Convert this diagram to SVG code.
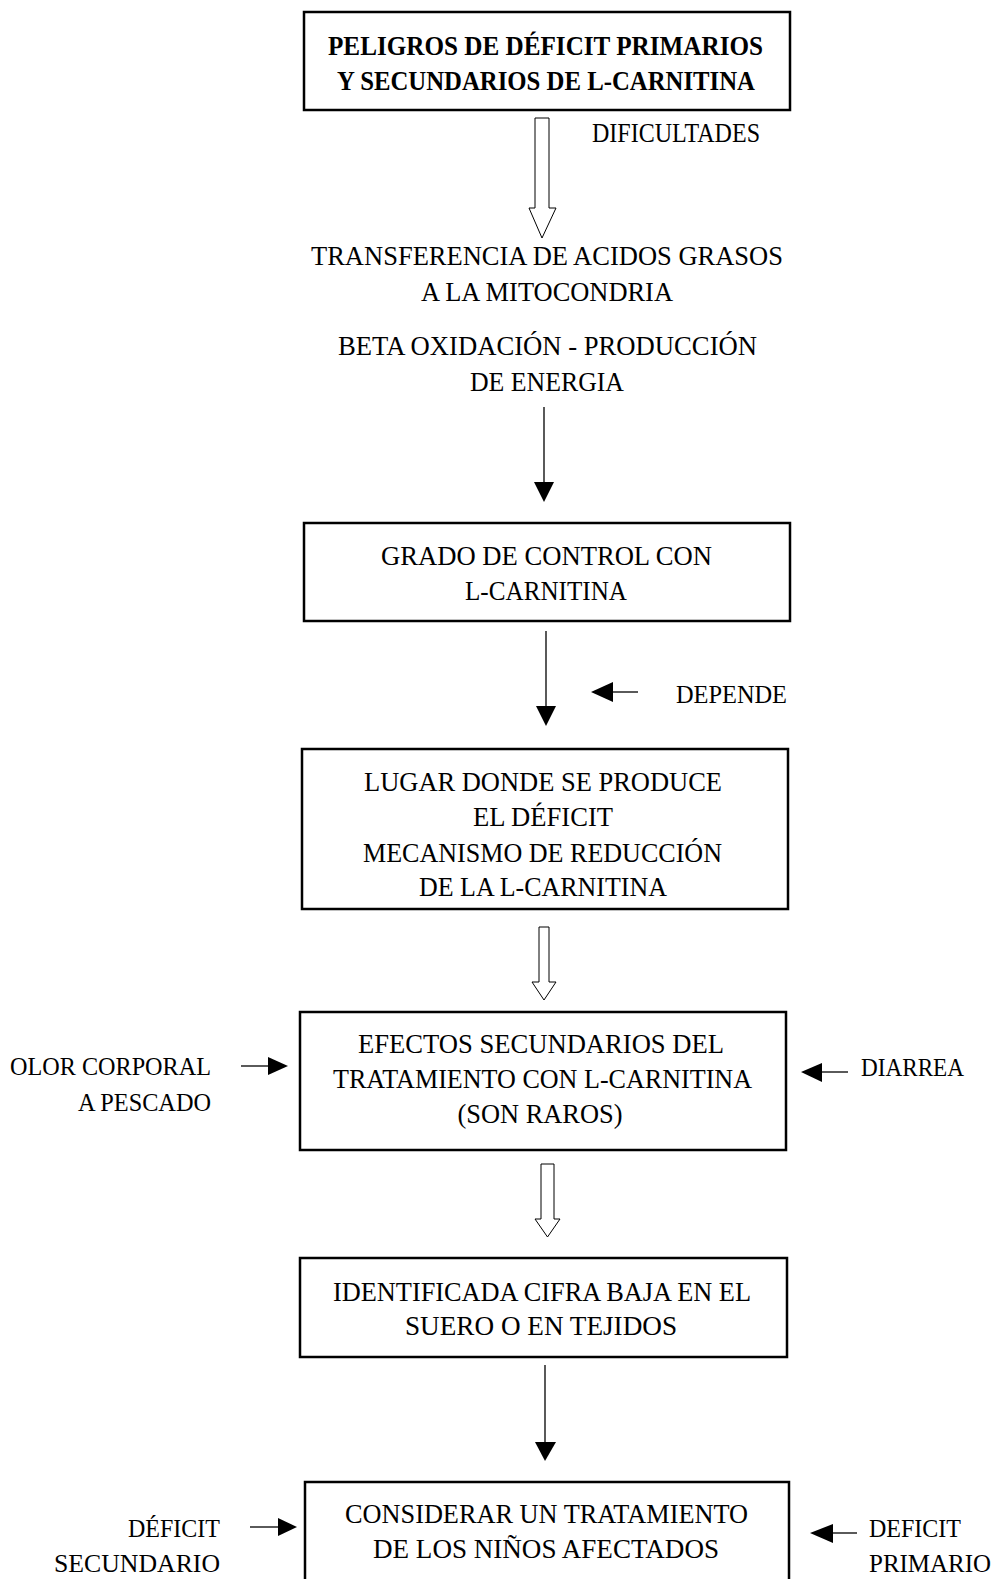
<svg xmlns="http://www.w3.org/2000/svg" width="996" height="1579" viewBox="0 0 996 1579">
<style>
text{font-family:"Liberation Serif","Times New Roman",serif;fill:#000;font-size:27px}
.c{text-anchor:middle}
.r{text-anchor:end}
.b{font-weight:bold}
.s{font-size:26px}
.box{fill:#fff;stroke:#000;stroke-width:2.5}
.hollow{fill:#fff;stroke:#000;stroke-width:1}
.ln{stroke:#000;stroke-width:1.3;fill:none}
.hd{fill:#000}
</style>
<rect width="996" height="1579" fill="#fff"/>
<g id="connectors">
<polygon class="hollow" points="535,118 549,118 549,208 556,208 542,238 529,208 535,208"/>
<line class="ln" x1="544" y1="407" x2="544" y2="484"/>
<polygon class="hd" points="534,482 554,482 544,502"/>
<line class="ln" x1="546" y1="631" x2="546" y2="708"/>
<polygon class="hd" points="536,706 556,706 546,726"/>
<line class="ln" x1="612" y1="692" x2="638" y2="692"/>
<polygon class="hd" points="613,682 613,702 591,692"/>
<polygon class="hollow" points="539,927 549,927 549,982 556,982 544,1000 532,982 539,982"/>
<line class="ln" x1="241" y1="1066" x2="270" y2="1066"/>
<polygon class="hd" points="268,1057 268,1075 288,1066"/>
<line class="ln" x1="820" y1="1072" x2="848" y2="1072"/>
<polygon class="hd" points="822,1063 822,1082 801,1072"/>
<polygon class="hollow" points="541,1164 554,1164 554,1219 560,1219 547.5,1237 535,1219 541,1219"/>
<line class="ln" x1="545" y1="1365" x2="545" y2="1444"/>
<polygon class="hd" points="535,1442 556,1442 545,1461"/>
<line class="ln" x1="250" y1="1527" x2="280" y2="1527"/>
<polygon class="hd" points="278,1518 278,1536 297,1527"/>
<line class="ln" x1="831" y1="1533" x2="857" y2="1533"/>
<polygon class="hd" points="833,1524 833,1543 810,1533"/>
</g>
<g id="n-title">
<rect class="box" x="304" y="12" width="486" height="98" stroke-width="3"/>
<text class="c b" x="545.5" y="55" textLength="435" lengthAdjust="spacingAndGlyphs">PELIGROS DE DÉFICIT PRIMARIOS</text>
<text class="c b" x="546" y="90" textLength="418" lengthAdjust="spacingAndGlyphs">Y SECUNDARIOS DE L-CARNITINA</text>
</g>
<g id="n-dificultades">
<text x="592" y="142" font-size="23" textLength="168" lengthAdjust="spacingAndGlyphs">DIFICULTADES</text>
</g>
<g id="n-transferencia">
<text class="c" x="547" y="265" textLength="472" lengthAdjust="spacingAndGlyphs">TRANSFERENCIA DE ACIDOS GRASOS</text>
<text class="c" x="547" y="301" textLength="252" lengthAdjust="spacingAndGlyphs">A LA MITOCONDRIA</text>
<text class="c" x="547.5" y="355" textLength="419" lengthAdjust="spacingAndGlyphs">BETA OXIDACIÓN - PRODUCCIÓN</text>
<text class="c" x="547" y="391" textLength="154" lengthAdjust="spacingAndGlyphs">DE ENERGIA</text>
</g>
<g id="n-grado">
<rect class="box" x="304" y="523" width="486" height="98"/>
<text class="c" x="546.5" y="565" textLength="331" lengthAdjust="spacingAndGlyphs">GRADO DE CONTROL CON</text>
<text class="c" x="546" y="600" textLength="162" lengthAdjust="spacingAndGlyphs">L-CARNITINA</text>
</g>
<g id="n-depende">
<text class="s" x="676" y="703" textLength="111" lengthAdjust="spacingAndGlyphs">DEPENDE</text>
</g>
<g id="n-lugar">
<rect class="box" x="302" y="749" width="486" height="160"/>
<text class="c" x="543" y="791" textLength="358" lengthAdjust="spacingAndGlyphs">LUGAR DONDE SE PRODUCE</text>
<text class="c" x="543" y="826" textLength="140" lengthAdjust="spacingAndGlyphs">EL DÉFICIT</text>
<text class="c" x="542.5" y="862" textLength="359" lengthAdjust="spacingAndGlyphs">MECANISMO DE REDUCCIÓN</text>
<text class="c" x="543" y="896" textLength="248" lengthAdjust="spacingAndGlyphs">DE LA L-CARNITINA</text>
</g>
<g id="n-efectos">
<rect class="box" x="300" y="1012" width="486" height="138"/>
<text class="c" x="541" y="1053" textLength="366" lengthAdjust="spacingAndGlyphs">EFECTOS SECUNDARIOS DEL</text>
<text class="c" x="542.5" y="1088" textLength="419" lengthAdjust="spacingAndGlyphs">TRATAMIENTO CON L-CARNITINA</text>
<text class="c" x="540" y="1123" textLength="165" lengthAdjust="spacingAndGlyphs">(SON RAROS)</text>
</g>
<g id="n-olor">
<text class="r s" x="211" y="1075" textLength="201" lengthAdjust="spacingAndGlyphs">OLOR CORPORAL</text>
<text class="r s" x="211" y="1111" textLength="133" lengthAdjust="spacingAndGlyphs">A PESCADO</text>
</g>
<g id="n-diarrea">
<text class="s" x="861" y="1076" textLength="103" lengthAdjust="spacingAndGlyphs">DIARREA</text>
</g>
<g id="n-identificada">
<rect class="box" x="300" y="1258" width="487" height="99"/>
<text class="c" x="542" y="1301" textLength="418" lengthAdjust="spacingAndGlyphs">IDENTIFICADA CIFRA BAJA EN EL</text>
<text class="c" x="541" y="1335" textLength="272" lengthAdjust="spacingAndGlyphs">SUERO O EN TEJIDOS</text>
</g>
<g id="n-considerar">
<rect class="box" x="305" y="1482" width="484" height="110"/>
<text class="c" x="546.5" y="1523" textLength="403" lengthAdjust="spacingAndGlyphs">CONSIDERAR UN TRATAMIENTO</text>
<text class="c" x="546" y="1558" textLength="346" lengthAdjust="spacingAndGlyphs">DE LOS NIÑOS AFECTADOS</text>
</g>
<g id="n-secundario">
<text class="r s" x="220" y="1537" textLength="92" lengthAdjust="spacingAndGlyphs">DÉFICIT</text>
<text class="r s" x="220" y="1572" textLength="166" lengthAdjust="spacingAndGlyphs">SECUNDARIO</text>
</g>
<g id="n-primario">
<text class="s" x="869" y="1537" textLength="92" lengthAdjust="spacingAndGlyphs">DEFICIT</text>
<text class="s" x="869" y="1572" textLength="122" lengthAdjust="spacingAndGlyphs">PRIMARIO</text>
</g>
</svg>
